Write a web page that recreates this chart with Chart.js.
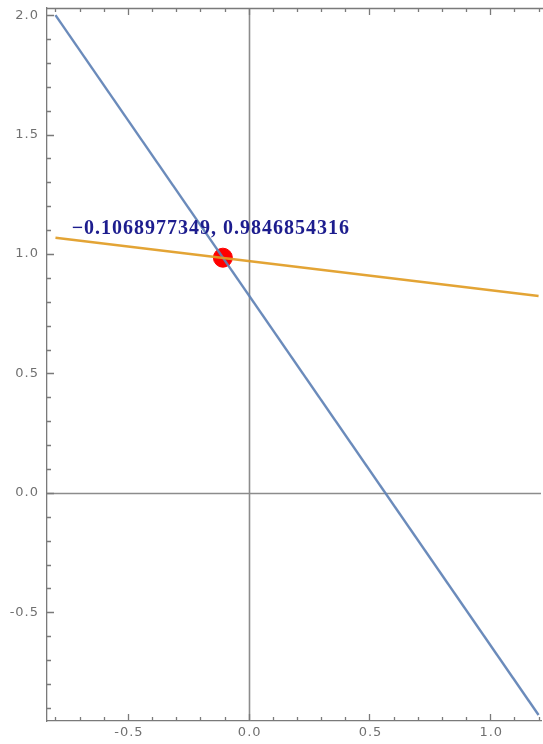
<!DOCTYPE html>
<html>
<head>
<meta charset="utf-8">
<script src="https://cdn.jsdelivr.net/npm/chart.js@4.4.1/dist/chart.umd.min.js"></script>
<style>
  html, body { margin: 0; padding: 0; background: #fff; overflow: hidden; }
  #wrap { width: 543px; height: 744px; position: relative; }
</style>
</head>
<body>
<div id="wrap"><canvas id="plot"></canvas></div>
<script>
// data
const xTickValues = [-0.5, 0.0, 0.5, 1.0];
const yTickValues = [-0.5, 0.0, 0.5, 1.0, 1.5, 2.0];
const lineX = [-0.8, 1.2];
const blueY = [2.0, -0.93];
const orangeY = [1.068, 0.824];
const crossX = [-0.1068977349];
const crossY = [0.9846854316];
const crossLabel = '\u22120.1068977349, 0.9846854316';

const frameColor = '#7a7a7a';
const labelColor = '#707070';

function toPoints(xs, ys) {
    return xs.map((x, i) => ({ x: x, y: ys[i] }));
}

// ticks inside the frame, tick labels, zero axes, top frame line, and the point label
const framePlugin = {
    id: 'framePlugin',
    beforeDatasetsDraw(chart) {
        const { ctx, chartArea: a, scales: { x, y } } = chart;
        ctx.save();
        ctx.strokeStyle = '#8c8c8c';
        ctx.lineWidth = 1.6;
        const x0 = Math.round(x.getPixelForValue(0)) + 0.5;
        const y0 = Math.round(y.getPixelForValue(0)) + 0.5;
        ctx.beginPath();
        ctx.moveTo(x0, a.top); ctx.lineTo(x0, a.bottom);
        ctx.moveTo(a.left, y0); ctx.lineTo(a.right, y0);
        ctx.stroke();

        ctx.strokeStyle = frameColor;
        ctx.lineWidth = 1.3;
        ctx.beginPath();
        ctx.moveTo(a.left, a.top + 0.5); ctx.lineTo(a.right + 2, a.top + 0.5);
        // x ticks, bottom and top
        for (let i = -8; i <= 12; i++) {
            const v = i / 10;
            const px = Math.round(x.getPixelForValue(v)) + 0.5;
            const len = (i % 5 === 0) ? 7 : 4;
            ctx.moveTo(px, a.bottom); ctx.lineTo(px, a.bottom - len);
            ctx.moveTo(px, a.top); ctx.lineTo(px, a.top + len);
        }
        // y ticks, left
        for (let i = -9; i <= 20; i++) {
            const v = i / 10;
            const py = Math.round(y.getPixelForValue(v)) + 0.5;
            const len = (i % 5 === 0) ? 7 : 4;
            ctx.moveTo(a.left, py); ctx.lineTo(a.left + len, py);
        }
        ctx.stroke();

        // tick labels
        ctx.fillStyle = labelColor;
        ctx.font = '13px "DejaVu Sans", sans-serif';
        ctx.letterSpacing = '1px';
        ctx.textBaseline = 'middle';
        ctx.textAlign = 'center';
        xTickValues.forEach(v => {
            ctx.fillText(v.toFixed(1), x.getPixelForValue(v) + 1, a.bottom + 12);
        });
        ctx.textAlign = 'right';
        yTickValues.forEach(v => {
            ctx.fillText(v.toFixed(1), a.left - 8, y.getPixelForValue(v));
        });
        ctx.restore();
    },
    afterDatasetsDraw(chart) {
        const { ctx, scales: { x, y } } = chart;
        const px = x.getPixelForValue(crossX[0]);
        const py = y.getPixelForValue(crossY[0]);
        ctx.save();
        ctx.font = 'bold 20px "Liberation Serif", "Times New Roman", serif';
        ctx.letterSpacing = '1px';
        ctx.fillStyle = '#1d1d8e';
        ctx.textAlign = 'center';
        ctx.textBaseline = 'alphabetic';
        ctx.fillText(crossLabel, px - 12, py - 24);
        ctx.restore();
    }
};

new Chart(document.getElementById('plot'), {
    type: 'scatter',
    data: {
        datasets: [
            {
                label: 'point',
                data: toPoints(crossX, crossY),
                backgroundColor: '#ff0000',
                borderColor: '#ff0000',
                pointRadius: 9.5,
                order: 3
            },
            {
                label: 'line1',
                data: toPoints(lineX, blueY),
                showLine: true,
                borderColor: 'rgba(94, 129, 181, 0.92)',
                borderWidth: 2.4,
                pointRadius: 0,
                order: 2
            },
            {
                label: 'line2',
                data: toPoints(lineX, orangeY),
                showLine: true,
                borderColor: 'rgba(225, 156, 36, 0.92)',
                borderWidth: 2.4,
                pointRadius: 0,
                order: 1
            }
        ]
    },
    options: {
        responsive: true,
        maintainAspectRatio: false,
        animation: false,
        layout: { autoPadding: false, padding: { top: 8, right: 2, left: 0, bottom: 0 } },
        plugins: {
            legend: { display: false },
            tooltip: { enabled: false }
        },
        scales: {
            x: {
                type: 'linear',
                min: -0.835,
                max: 1.21,
                grid: { display: false, drawTicks: false },
                border: { display: true, color: frameColor, width: 1.3 },
                afterFit: s => { s.height = 23; },
                ticks: { display: false }
            },
            y: {
                type: 'linear',
                min: -0.955,
                max: 2.03,
                grid: { display: false, drawTicks: false },
                border: { display: true, color: frameColor, width: 1.3 },
                afterFit: s => { s.width = 47; },
                ticks: { display: false }
            }
        }
    },
    plugins: [framePlugin]
});
</script>
</body>
</html>
